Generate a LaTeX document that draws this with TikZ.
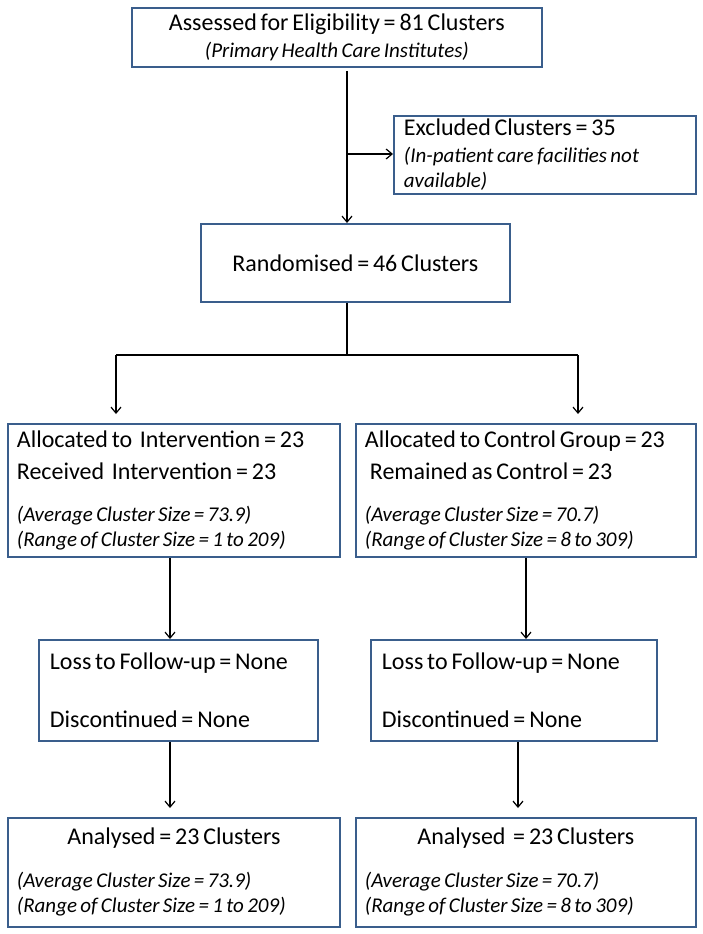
\documentclass[tikz,border=0pt]{standalone}
\usepackage{fontspec}
\setmainfont{Carlito}
\usetikzlibrary{arrows.meta,positioning}
\definecolor{boxblue}{RGB}{58,94,140}
\newcommand{\tightspace}{\spaceskip=0.16em\relax}
\newcommand{\note}[1]{{\fontsize{21}{25}\selectfont\itshape\tightspace #1}}

\begin{document}
\begin{tikzpicture}[x=1pt,y=-1pt]
		\tikzset{box style/.style={draw=boxblue,
				line width=1.8pt,
				inner xsep=10pt, inner ysep=0pt,
				anchor=north west,
				font={\fontsize{24}{27}\selectfont},
				execute at begin node=\tightspace},
			arrow style/.style={draw=black, line width=1.2pt,
				-{Straight Barb[length=6pt,width=10pt]}},
			line style/.style={draw=black, line width=1.2pt}}
		\useasboundingbox (0,0) rectangle (703,934);

		% Draw the boxes
		\node[box style, minimum height=59pt, text width=390pt, align=center] at (131,7) (top)
			{Assessed for Eligibility = 81 Clusters\\ \note{(Primary Health Care Institutes)}};
		\node[box style, minimum height=78pt, text width=282pt, align=left] at (393,115) (excl)
			{Excluded Clusters = 35\\ \note{(In-patient care facilities not}\\[-2pt] \note{available)}};
		\node[box style, minimum height=78pt, text width=289pt, align=center] at (200,223) (rand)
			{Randomised = 46 Clusters};
		\node[box style, minimum height=133pt, text width=314pt, inner xsep=9pt, align=left] at (7,423) (intl)
			{Allocated to~ Intervention = 23\\[5pt] Received~ Intervention = 23\\[15pt]
			\note{(Average Cluster Size = 73.9)}\\[-2pt] \note{(Range of Cluster Size = 1 to 209)}};
		\node[box style, minimum height=133pt, text width=322pt, inner xsep=9pt, align=left] at (355,423) (ctrl)
			{Allocated to Control Group = 23\\[5pt] \hspace{5pt}Remained as Control = 23\\[15pt]
			\note{(Average Cluster Size = 70.7)}\\[-2pt] \note{(Range of Cluster Size = 8 to 309)}};
		\node[box style, minimum height=101pt, text width=257pt, inner xsep=11pt, align=left] at (38,639) (lossl)
			{Loss to Follow-up = None\\[31pt] Discontinued = None};
		\node[box style, minimum height=101pt, text width=264pt, inner xsep=11pt, align=left] at (370,639) (lossr)
			{Loss to Follow-up = None\\[31pt] Discontinued = None};
		\node[box style, minimum height=109pt, text width=314pt, inner xsep=9pt, align=left] at (7,817) (anal)
			{\hfill Analysed = 23 Clusters\hfill\null\\[16pt]
			\note{(Average Cluster Size = 73.9)}\\[-2pt] \note{(Range of Cluster Size = 1 to 209)}};
		\node[box style, minimum height=109pt, text width=322pt, inner xsep=9pt, align=left] at (355,817) (anar)
			{\hfill Analysed~ = 23 Clusters\hfill\null\\[16pt]
			\note{(Average Cluster Size = 70.7)}\\[-2pt] \note{(Range of Cluster Size = 8 to 309)}};

		% Points where the lines turn
		\coordinate (brk) at (347,154);
		\coordinate (split) at (347,355);
		\coordinate (lft) at (116,355);
		\coordinate (rgt) at (578,355);
		\coordinate (xl) at (170,0);
		\coordinate (xr) at (526,0);
		\coordinate (xr2) at (518,0);

		% Connect the boxes with arrows
		\draw[arrow style] ([yshift=-3pt]top.south -| split) -- (rand.north -| split);
		\draw[arrow style] (brk) -- (excl.west |- brk);
		\draw[line style] (rand.south -| split) -- (split);
		\draw[line style] (lft) -- (rgt);
		\draw[arrow style, shorten >=9pt] (lft) -- (intl.north -| lft);
		\draw[arrow style, shorten >=9pt] (rgt) -- (ctrl.north -| rgt);
		\draw[arrow style] (intl.south -| xl) -- (lossl.north -| xl);
		\draw[arrow style] (ctrl.south -| xr) -- (lossr.north -| xr);
		\draw[arrow style, shorten >=9pt] (lossl.south -| xl) -- (anal.north -| xl);
		\draw[arrow style, shorten >=9pt] (lossr.south -| xr2) -- (anar.north -| xr2);
		
\end{tikzpicture}
\end{document}
